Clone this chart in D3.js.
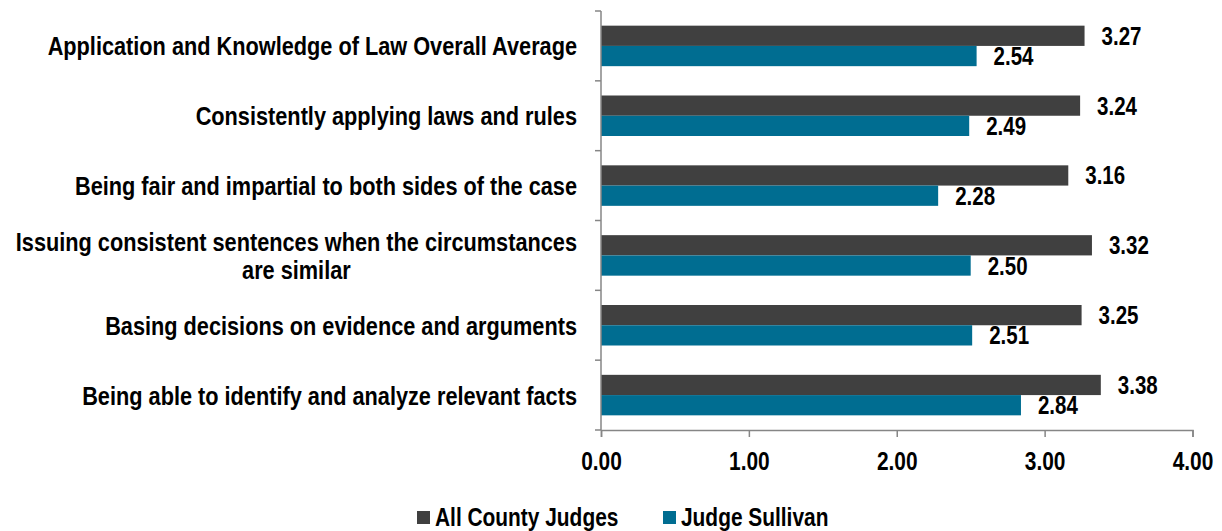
<!DOCTYPE html>
<html>
<head>
<meta charset="utf-8">
<script src="https://cdn.jsdelivr.net/npm/d3@7"></script>
<style>
  body { margin: 0; background: #fff; }
  text { font-family: "Liberation Sans", Arial, sans-serif; font-weight: bold; fill: #000; }
</style>
</head>
<body>
<div id="chart"></div>
<script>
// categories top to bottom ("|" marks a line break)
var categories = [
    "Application and Knowledge of Law Overall Average",
    "Consistently applying laws and rules",
    "Being fair and impartial to both sides of the case",
    "Issuing consistent sentences when the circumstances|are similar",
    "Basing decisions on evidence and arguments",
    "Being able to identify and analyze relevant facts"
];
var allJudges = [3.27, 3.24, 3.16, 3.32, 3.25, 3.38];
var sullivan = [2.54, 2.49, 2.28, 2.50, 2.51, 2.84];
var seriesNames = ["All County Judges", "Judge Sullivan"];
var colors = ["#404040", "#006d91"];
var xTicks = [0, 1, 2, 3, 4];

var W = 1222, H = 531;
var SX = 0.82; // horizontal squeeze to fake a narrow face
var margin = { top: 11, right: 30, bottom: 101, left: 601 };
var width = W - margin.left - margin.right,
    height = H - margin.top - margin.bottom;

var svg = d3.select("#chart").append("svg")
    .attr("width", W)
    .attr("height", H);

var g = svg.append("g")
    .attr("transform", "translate(" + margin.left + "," + margin.top + ")");

var x = d3.scaleLinear().domain([0, 4]).range([0, 591.5]);
var y = d3.scaleBand().domain(d3.range(categories.length)).range([0, height]).padding(0);
var ySub = d3.scaleBand().domain([0, 1]).range([y.bandwidth() * 0.21, y.bandwidth() * 0.79]);

var data = categories.map(function (c, i) {
    return { i: i, vals: [allJudges[i], sullivan[i]] };
});

// bars
var groups = g.selectAll(".grp").data(data).enter().append("g")
    .attr("transform", function (d) { return "translate(0," + y(d.i) + ")"; });

groups.selectAll("rect")
    .data(function (d) { return d.vals.map(function (v, k) { return { k: k, v: v }; }); })
    .enter().append("rect")
    .attr("x", 0)
    .attr("y", function (d) { return ySub(d.k); })
    .attr("width", function (d) { return x(d.v); })
    .attr("height", ySub.bandwidth())
    .attr("fill", function (d) { return colors[d.k]; });

groups.selectAll(".val")
    .data(function (d) { return d.vals.map(function (v, k) { return { k: k, v: v }; }); })
    .enter().append("text")
    .attr("transform", "scale(" + SX + ",1)")
    .attr("x", function (d) { return (x(d.v) + 17) / SX; })
    .attr("y", function (d) { return ySub(d.k) + ySub.bandwidth() / 2; })
    .attr("dy", "0.36em")
    .style("font-size", "25px")
    .text(function (d) { return d.v.toFixed(2); });

// y axis: line with ticks at band boundaries
var axisColor = "#868686";
g.append("line")
    .attr("x1", 0).attr("x2", 0).attr("y1", 0).attr("y2", height)
    .attr("stroke", axisColor).attr("stroke-width", 1.5);
g.selectAll(".ytick").data(d3.range(categories.length + 1)).enter().append("line")
    .attr("x1", -6).attr("x2", 0)
    .attr("y1", function (d) { return d < categories.length ? y(d) : height; })
    .attr("y2", function (d) { return d < categories.length ? y(d) : height; })
    .attr("stroke", axisColor).attr("stroke-width", 1.5);

// category labels (centred block, right edge at x = -24)
var labels = g.selectAll(".cat").data(data).enter().append("text")
    .attr("text-anchor", "middle")
    .attr("transform", "scale(" + SX + ",1)")
    .style("font-size", "26.5px");
labels.each(function (d) {
    var lines = categories[d.i].split("|");
    var t = d3.select(this);
    var cy = y(d.i) + y.bandwidth() / 2;
    var lh = 28;
    lines.forEach(function (ln, j) {
        t.append("tspan")
            .attr("x", 0)
            .attr("y", cy + (j - (lines.length - 1) / 2) * lh)
            .attr("dy", "0.36em")
            .text(ln);
    });
    var bw = this.getBBox().width;
    t.selectAll("tspan").attr("x", -24 / SX - bw / 2);
});

// x axis
var xAxis = g.append("g")
    .attr("transform", "translate(0," + height + ")")
    .call(d3.axisBottom(x).tickValues(xTicks).tickSize(7).tickPadding(15)
        .tickFormat(function (d) { return d.toFixed(2); }));
xAxis.select(".domain").attr("stroke", axisColor).attr("stroke-width", 1.5);
xAxis.selectAll(".tick line").attr("stroke", axisColor).attr("stroke-width", 1.5);
xAxis.selectAll(".tick text")
    .attr("transform", "scale(" + SX + ",1)")
    .style("font-size", "25.5px")
    .attr("fill", "#000")
    .attr("dy", "0.71em");

// legend
var legend = svg.append("g").attr("transform", "translate(0,517)");
var legX = [417, 663];
seriesNames.forEach(function (n, k) {
    legend.append("rect")
        .attr("x", legX[k]).attr("y", -6)
        .attr("width", 13).attr("height", 13)
        .attr("fill", colors[k]);
    legend.append("text")
        .attr("transform", "scale(" + SX + ",1)")
        .attr("x", (legX[k] + 18) / SX).attr("y", 0)
        .attr("dy", "0.36em")
        .style("font-size", "25.5px")
        .text(n);
});
</script>
</body>
</html>
